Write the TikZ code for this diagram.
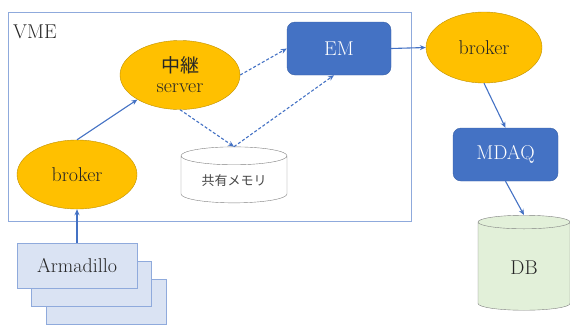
\documentclass[tikz,border=0pt]{standalone}
\usepackage{fontspec}
\newfontfamily\jpfont{Noto Sans CJK JP}
\usetikzlibrary{shapes.geometric,arrows.meta}
\definecolor{jaune}{HTML}{FFC000}
\definecolor{bleu}{HTML}{4472C4}
\definecolor{bleuclair}{HTML}{DAE3F3}
\definecolor{bleubord}{HTML}{8FAADC}
\definecolor{vertclair}{HTML}{E2F0D9}
\definecolor{texte}{HTML}{262626}
\newcommand{\taille}[0]{\fontsize{20}{23}\selectfont}
\tikzset{
 ovale/.style={ellipse, draw=jaune!75!black, fill=jaune, minimum width=120pt,
  minimum height=69pt, inner sep=0pt, text=texte, font=\taille},
 bloc/.style={rounded corners=8pt, fill=bleu, draw=bleu!85!black,
  minimum width=104pt, minimum height=53pt, text=white, font=\taille},
 carte/.style={draw=bleubord, fill=bleuclair, minimum width=120pt,
  minimum height=45pt, text=texte, font=\taille},
 cuve/.style={cylinder, shape border rotate=90, draw=gray, text=texte},
 fleche/.style={-{Stealth[length=6pt,width=5pt]}, bleu, line width=1.1pt},
 pointille/.style={fleche, dash pattern=on 3pt off 2pt}
}

\begin{document}
\begin{tikzpicture}[x=1pt, y=-1pt]
\useasboundingbox (0,0) rectangle (570,325);
\clip (0,0) rectangle (570,325);
%VME frame
	\draw[bleubord] (8,12) rectangle (411,221);
	\node[anchor=west, text=texte, font=\taille, inner sep=0pt] (vme) at (13,32) {VME};
%Armadillo stack
	\node[carte] (arm3) at (106,301.5) {};
	\node[carte] (arm2) at (91.5,283.5) {};
	\node[carte] (arm) at (77,265.5) {Armadillo};
%inside VME
	\node[ovale] (brk) at (77,174.5) {broker};
	\node[ovale, align=center] (srv) at (180,75) {{\jpfont\fontsize{19}{21}\selectfont 中継}\\[-3pt]server};
	\node[bloc] (em) at (339,48.5) {EM};
	\node[cuve, fill=white, minimum width=106pt, minimum height=56pt, aspect=0.25,
	 font=\jpfont\fontsize{13}{15}\selectfont, text=texte!85] (mem) at (234,181) {共有メモリ};
%outside
	\node[ovale, minimum width=116pt, minimum height=71pt] (rbrk) at (484,47.5) {broker};
	\node[bloc, minimum width=105pt] (mdaq) at (505.5,154.5) {MDAQ};
	\node[cuve, fill=vertclair, minimum width=92pt, minimum height=95pt, aspect=0.4,
	 font=\taille] (db) at (524,267.5) {DB};
%Arrows
	\draw[fleche] (arm.north) -- (brk.south);
	\draw[fleche] (brk.north) -- (srv.south west);
	\draw[pointille] (srv.east) -- (em.west);
	\draw[pointille] (srv.south) -- (mem.north);
	\draw[pointille] (mem.north) -- ([xshift=-5pt]em.south);
	\draw[fleche] (em.east) -- (rbrk.west);
	\draw[fleche] (rbrk.south) -- (mdaq.north);
	\draw[fleche] (mdaq.south) -- (db.north);
\end{tikzpicture}
\end{document}
